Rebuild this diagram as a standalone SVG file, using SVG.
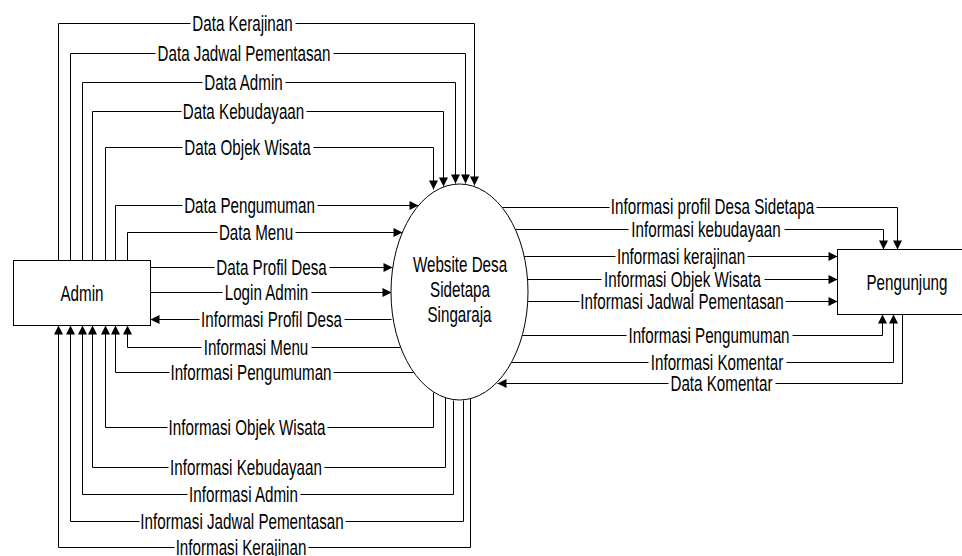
<svg xmlns="http://www.w3.org/2000/svg" width="962" height="556" viewBox="0 0 962 556">
<style>
.box{fill:#fff;stroke:#000;stroke-width:1}
.ln{fill:none;stroke:#000;stroke-width:1}
.lbl{font-family:"Liberation Sans",Arial,sans-serif;font-size:22px;text-anchor:middle;fill:#000}
</style>
<defs>
<marker id="arr" viewBox="0 0 10 10" refX="10" refY="5" markerWidth="11" markerHeight="9" markerUnits="userSpaceOnUse" orient="auto">
<path d="M0,0 L10,5 L0,10 z" fill="#000"/>
</marker>
</defs>
<rect width="962" height="556" fill="#fff"/>
<g id="connectors" class="ln" transform="translate(0.5 0.5)" marker-end="url(#arr)">
<path d="M58,260 V23 H190 M295,23 H474 V185"/>
<path d="M70,260 V53 H155 M333,53 H465 V183"/>
<path d="M82,260 V82 H202 M285,82 H455 V183"/>
<path d="M92,260 V111 H181 M306,111 H443 V186"/>
<path d="M105,260 V147 H182 M313,147 H433 V189"/>
<path d="M115,260 V205 H182 M317,205 H418"/>
<path d="M127,260 V232 H217 M295,232 H402"/>
<path d="M150,267 H214 M329,267 H392"/>
<path d="M150,292 H222 M311,292 H391"/>
<path d="M391,319 H344 M199,319 H150"/>
<path d="M400,347 H311 M201,347 H127 V325"/>
<path d="M413,372 H333 M169,372 H115 V325"/>
<path d="M433,392 V427 H327 M167,427 H105 V325"/>
<path d="M445,397 V467 H324 M168,467 H92 V325"/>
<path d="M453,400 V494 H300 M187,494 H82 V325"/>
<path d="M463,400 V521 H345 M139,521 H70 V325"/>
<path d="M470,398 V547 H308 M174,547 H58 V325"/>
<path d="M502,207 H609 M816,207 H897 V249"/>
<path d="M515,229 H628 M784,229 H883 V249"/>
<path d="M523,256 H615 M747,256 H837"/>
<path d="M527,279 H601 M764,279 H837"/>
<path d="M527,301 H579 M785,301 H837"/>
<path d="M522,335 H626 M792,335 H882 V314"/>
<path d="M511,362 H648 M786,362 H893 V314"/>
<path d="M902,314 V383 H775 M668,383 H497"/>
</g>
<g id="labels">
<text class="lbl" transform="translate(242.5 31.3) scale(0.69 1)">Data Kerajinan</text>
<text class="lbl" transform="translate(244 61.3) scale(0.69 1)">Data Jadwal Pementasan</text>
<text class="lbl" transform="translate(243.5 90.3) scale(0.69 1)">Data Admin</text>
<text class="lbl" transform="translate(243.5 119.3) scale(0.69 1)">Data Kebudayaan</text>
<text class="lbl" transform="translate(247.5 155.3) scale(0.69 1)">Data Objek Wisata</text>
<text class="lbl" transform="translate(249.5 213.3) scale(0.69 1)">Data Pengumuman</text>
<text class="lbl" transform="translate(256 240.3) scale(0.69 1)">Data Menu</text>
<text class="lbl" transform="translate(271.5 275.3) scale(0.69 1)">Data Profil Desa</text>
<text class="lbl" transform="translate(266.5 300.3) scale(0.69 1)">Login Admin</text>
<text class="lbl" transform="translate(271.5 327.3) scale(0.69 1)">Informasi Profil Desa</text>
<text class="lbl" transform="translate(256 355.3) scale(0.69 1)">Informasi Menu</text>
<text class="lbl" transform="translate(251 380.3) scale(0.69 1)">Informasi Pengumuman</text>
<text class="lbl" transform="translate(247 435.3) scale(0.69 1)">Informasi Objek Wisata</text>
<text class="lbl" transform="translate(246 475.3) scale(0.69 1)">Informasi Kebudayaan</text>
<text class="lbl" transform="translate(243.5 502.3) scale(0.69 1)">Informasi Admin</text>
<text class="lbl" transform="translate(242 529.3) scale(0.69 1)">Informasi Jadwal Pementasan</text>
<text class="lbl" transform="translate(241 555) scale(0.69 1)">Informasi Kerajinan</text>
<text class="lbl" transform="translate(712.5 213.8) scale(0.69 1)">Informasi profil Desa Sidetapa</text>
<text class="lbl" transform="translate(706 236.8) scale(0.69 1)">Informasi kebudayaan</text>
<text class="lbl" transform="translate(681 263.8) scale(0.69 1)">Informasi kerajinan</text>
<text class="lbl" transform="translate(682.5 286.8) scale(0.69 1)">Informasi Objek Wisata</text>
<text class="lbl" transform="translate(682 308.8) scale(0.69 1)">Informasi Jadwal Pementasan</text>
<text class="lbl" transform="translate(709 342.8) scale(0.69 1)">Informasi Pengumuman</text>
<text class="lbl" transform="translate(717 369.8) scale(0.69 1)">Informasi Komentar</text>
<text class="lbl" transform="translate(721.5 390.8) scale(0.69 1)">Data Komentar</text>
</g>
<g id="admin">
<rect class="box" x="13.5" y="260.5" width="137" height="65"/>
<text class="lbl" transform="translate(82 300.5) scale(0.69 1)">Admin</text>
</g>
<g id="website">
<ellipse class="box" cx="459.5" cy="292" rx="68.5" ry="108"/>
<text class="lbl" transform="translate(460 272) scale(0.69 1)">Website Desa</text>
<text class="lbl" transform="translate(460 297) scale(0.69 1)">Sidetapa</text>
<text class="lbl" transform="translate(459.5 322) scale(0.69 1)">Singaraja</text>
</g>
<g id="pengunjung">
<rect class="box" x="837.5" y="249.5" width="130" height="65"/>
<text class="lbl" transform="translate(907 289.5) scale(0.69 1)">Pengunjung</text>
</g>
</svg>
